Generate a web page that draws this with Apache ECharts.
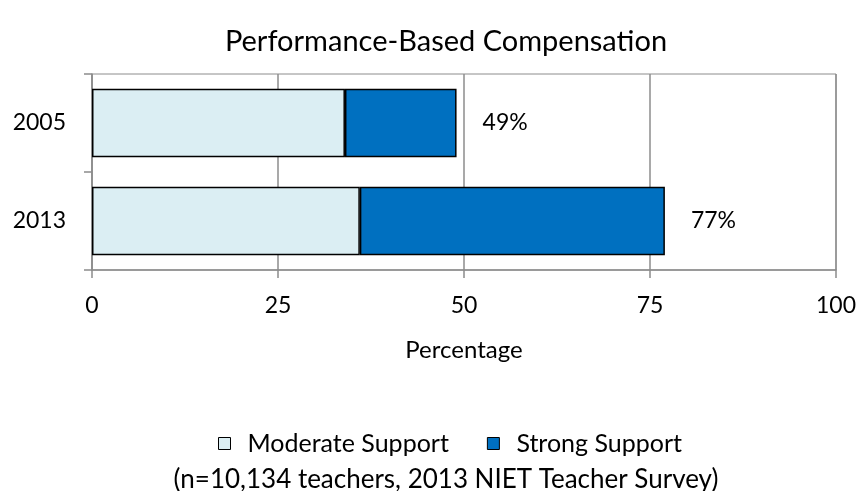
<!DOCTYPE html>
<html>
<head>
<meta charset="utf-8">
<script src="https://cdn.jsdelivr.net/npm/echarts@6/dist/echarts.min.js"></script>
<style>
  html, body { margin: 0; padding: 0; background: #fff; }
  #chart { width: 862px; height: 491px; }
</style>
</head>
<body>
<div id="chart"></div>
<script>
var years = ["2005", "2013"];
var moderateData = [34, 36];
var strongData = [15, 41];
var totalLabels = ["49%", "77%"];

var FONT = "Lato";
var gridColor = "#8c8c8c";

var myChart = echarts.init(document.getElementById("chart"));

var option = {
  backgroundColor: "#fff",
  textStyle: { fontFamily: FONT, color: "#000" },
  title: [
    {
      text: "Performance-Based Compensation",
      left: 441,
      top: 22,
      textAlign: "center",
      textStyle: { fontFamily: FONT, fontSize: 29, fontWeight: "normal", color: "#000" },
    },
    {
      text: "(n=10,134 teachers, 2013 NIET Teacher Survey)",
      left: 441,
      top: 462,
      textAlign: "center",
      textStyle: { fontFamily: FONT, fontSize: 26, fontWeight: "normal", color: "#000" },
    },
  ],
  legend: {
    left: 213,
    top: 426,
    icon: "rect",
    itemWidth: 12,
    itemHeight: 12,
    itemGap: 38,
    itemStyle: { borderColor: "#000", borderWidth: 1 },
    textStyle: { fontFamily: FONT, fontSize: 25, color: "#000", padding: [0, 0, 0, 12] },
    data: ["Moderate Support", "Strong Support"],
  },
  grid: { left: 92, right: 26, top: 74, bottom: 221, show: true, borderColor: gridColor, borderWidth: 1 },
  xAxis: {
    type: "value",
    min: 0,
    max: 100,
    interval: 25,
    name: "Percentage",
    nameLocation: "middle",
    nameGap: 68,
    nameTextStyle: { fontFamily: FONT, fontSize: 24, color: "#000" },
    axisLine: { show: true, lineStyle: { color: gridColor, width: 1.5 } },
    axisTick: { show: true, length: 8, lineStyle: { color: gridColor, width: 1.5 } },
    axisLabel: { fontFamily: FONT, fontSize: 23, color: "#000", margin: 24 },
    splitLine: { show: true, lineStyle: { color: gridColor, width: 1.5 } },
  },
  yAxis: {
    type: "category",
    inverse: true,
    data: years,
    axisLine: { show: true, lineStyle: { color: gridColor, width: 1.5 } },
    axisTick: { show: true, length: 8, lineStyle: { color: gridColor, width: 1.5 } },
    axisLabel: { fontFamily: FONT, fontSize: 23, color: "#000", margin: 26 },
  },
  series: [
    {
      name: "Moderate Support",
      type: "bar",
      stack: "total",
      barCategoryGap: "30%",
      data: moderateData,
      itemStyle: { color: "#DBEEF3", borderColor: "#000", borderWidth: 1.5 },
    },
    {
      name: "Strong Support",
      type: "bar",
      stack: "total",
      barCategoryGap: "30%",
      data: strongData,
      itemStyle: { color: "#0070C0", borderColor: "#000", borderWidth: 1.5 },
      label: {
        show: true,
        position: "right",
        distance: 26,
        fontFamily: FONT,
        fontSize: 23,
        color: "#000",
        formatter: function (p) {
          return totalLabels[p.dataIndex];
        },
      },
    },
  ],
};

myChart.setOption(option);
</script>
</body>
</html>
